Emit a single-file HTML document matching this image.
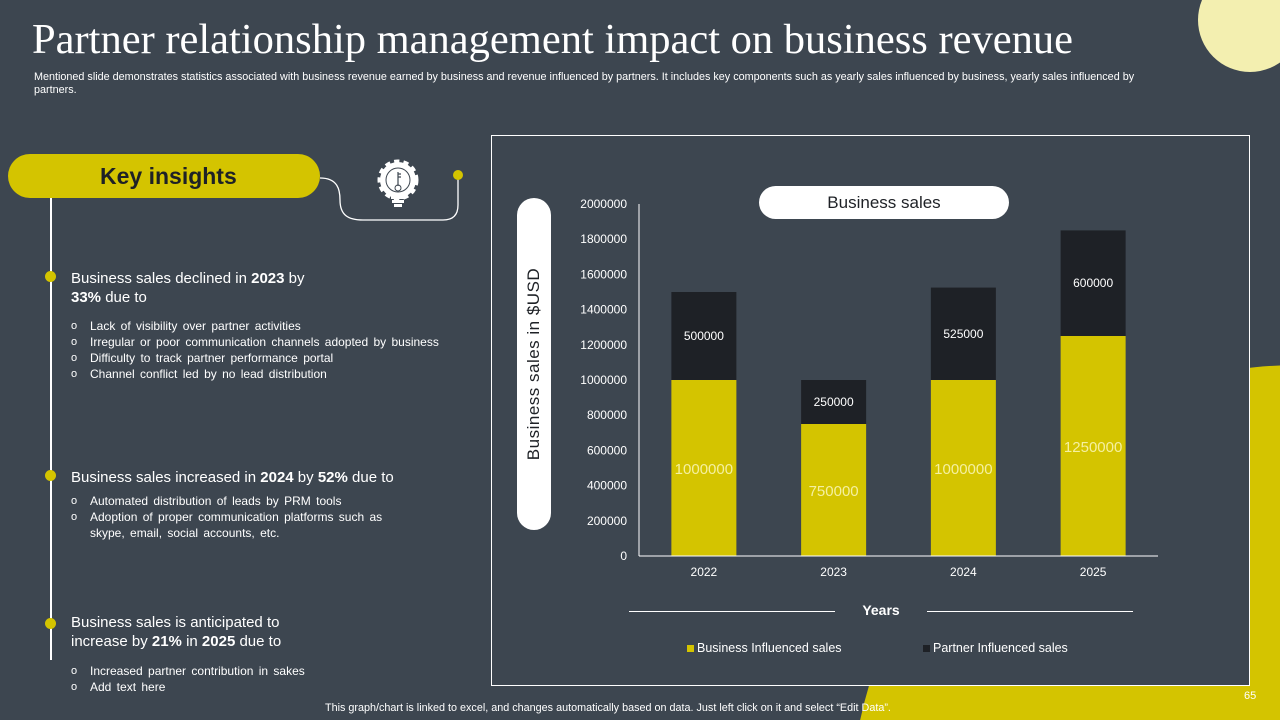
<!DOCTYPE html>
<html style="overflow:hidden;width:1280px;height:720px"><head><meta charset="utf-8"><style>
*{margin:0;padding:0;box-sizing:border-box}
body{width:1280px;height:720px;overflow:hidden;background:#3d4650;font-family:"Liberation Sans",sans-serif;color:#fff;position:relative}
#wrap{position:absolute;left:0;top:0;width:1280px;height:720px;overflow:hidden}
.a{position:absolute}
.h{font-size:15px;line-height:19px}
.b{font-size:12px;line-height:16px;word-spacing:2px}
.b div{position:relative;padding-left:19px}
.b div:before{content:"o";position:absolute;left:0;top:0;font-size:11px}
.dot{width:11px;height:11px;border-radius:50%;background:#d4c400;left:45px}
</style></head><body><div id="wrap">
<svg class="a" style="left:0;top:0" width="1280" height="720"><circle cx="1250" cy="20" r="52" fill="#f3efb0"/><circle cx="1300" cy="815" r="450" fill="#d4c400"/></svg>
<div class="a" style="left:32px;top:15px;font-family:'Liberation Serif',serif;font-size:42.5px;line-height:50px;white-space:nowrap">Partner relationship management impact on business revenue</div>
<div class="a" style="left:34px;top:71px;width:1130px;font-size:10.8px;line-height:13px">Mentioned slide demonstrates statistics associated with business revenue earned by business and revenue influenced by partners. It includes key components such as yearly sales influenced by business, yearly sales influenced by partners.</div>

<div class="a" style="left:50px;top:190px;width:2px;height:470px;background:#fff"></div>
<div class="a" style="left:8px;top:154px;width:312px;height:44px;border-radius:22px;background:#d4c400;color:#1e2126;font-weight:bold;font-size:23px;line-height:44px;padding-left:92px">Key insights</div>
<svg class="a" style="left:318px;top:160px" width="150" height="70"><path d="M2 18 C20 18,22 30,22 40 C22 55,30 60,45 60 L125 60 C135 60,140 55,140 45 L140 15" fill="none" stroke="#fff" stroke-width="1.3"/><circle cx="140" cy="15" r="5" fill="#d4c400"/></svg>
<svg class="a" style="left:376px;top:158px" width="44" height="52"><circle cx="22" cy="22" r="18" fill="#fff" stroke="#fff" stroke-width="5" stroke-dasharray="5 4"/><circle cx="22" cy="22" r="12" fill="none" stroke="#3d4650" stroke-width="1"/><path d="M22 14v14M22 16h3M22 19h3" stroke="#3d4650" stroke-width="1.2"/><circle cx="22" cy="30" r="3" fill="none" stroke="#3d4650"/><rect x="15" y="38" width="14" height="3" fill="#fff"/><rect x="16" y="42" width="12" height="3" fill="#fff"/><rect x="18" y="46" width="8" height="3" fill="#fff"/></svg>

<div class="a dot" style="top:271px"></div>
<div class="a h" style="left:71px;top:269px">Business sales declined in <b>2023</b> by<br><b>33%</b> due to</div>
<div class="a b" style="left:71px;top:318px">
<div>Lack of visibility over partner activities</div><div>Irregular or poor communication channels adopted by business</div><div>Difficulty to track partner performance portal</div><div>Channel conflict led by no lead distribution</div></div>

<div class="a dot" style="top:470px"></div>
<div class="a h" style="left:71px;top:468px">Business sales increased in <b>2024</b> by <b>52%</b> due to</div>
<div class="a b" style="left:71px;top:493px">
<div>Automated distribution of leads by PRM tools</div><div>Adoption of proper communication platforms such as<br>skype, email, social accounts, etc.</div></div>

<div class="a dot" style="top:618px"></div>
<div class="a h" style="left:71px;top:613px">Business sales is anticipated to<br>increase by <b>21%</b> in <b>2025</b> due to</div>
<div class="a b" style="left:71px;top:663px">
<div>Increased partner contribution in sakes</div><div>Add text here</div></div>

<div class="a" style="left:491px;top:135px;width:759px;height:551px;background:#3d4650;border:1px solid #fff"></div>
<div class="a" style="left:517px;top:198px;width:34px;height:332px;border-radius:17px;background:#fff"></div>
<div class="a" style="left:534px;top:364px;transform:translate(-50%,-50%) rotate(-90deg);white-space:nowrap;color:#1e2126;font-size:17px;letter-spacing:0.5px">Business sales in $USD</div>
<div class="a" style="left:759px;top:186px;width:250px;height:33px;border-radius:17px;background:#fff;color:#1e2126;font-size:17px;line-height:33px;text-align:center">Business sales</div>
<svg class="a" id="chart" style="left:0;top:0" width="1280" height="720"></svg>
<div class="a" style="left:629px;top:602px;width:504px;height:18px">
<div class="a" style="left:0;top:9px;width:206px;height:1px;background:#fff"></div>
<div class="a" style="left:0;width:504px;text-align:center;font-weight:bold;font-size:14px">Years</div>
<div class="a" style="left:298px;top:9px;width:206px;height:1px;background:#fff"></div></div>
<div class="a" style="left:687px;top:641px;font-size:12.5px"><span style="display:inline-block;width:7px;height:7px;background:#d4c400;margin-right:3px"></span>Business Influenced sales</div>
<div class="a" style="left:923px;top:641px;font-size:12.5px"><span style="display:inline-block;width:7px;height:7px;background:#1e2126;margin-right:3px"></span>Partner Influenced sales</div>
<div class="a" style="left:325px;top:702px;font-size:10.8px;line-height:13px;white-space:nowrap">This graph/chart is linked to excel, and changes automatically based on data. Just left click on it and select “Edit Data”.</div>
<div class="a" style="left:1244px;top:690px;font-size:11px;line-height:13px">65</div>
<script>
const categories=["2022","2023","2024","2025"];
const businessValues=[1000000,750000,1000000,1250000];
const partnerValues=[500000,250000,525000,600000];
const yTicks=[0,200000,400000,600000,800000,1000000,1200000,1400000,1600000,1800000,2000000];
const svg=document.getElementById('chart');const NS='http://www.w3.org/2000/svg';
const y0=556,y1=204,yMax=2000000,x0=639,x1=1158;
const y=v=>y0-(v/yMax)*(y0-y1);
const band=(x1-x0)/categories.length;const bw=65;
const xc=i=>x0+band*(i+0.5);
function mk(t,a){const e=document.createElementNS(NS,t);for(const k in a)e.setAttribute(k,a[k]);svg.appendChild(e);return e;}
function tx(s,a){const e=mk('text',Object.assign({'font-family':'Liberation Sans, sans-serif','text-anchor':'middle'},a));e.textContent=s;return e;}
yTicks.forEach(v=>{const t=tx(String(v),{x:627,y:y(v)+4,'font-size':12,fill:'#fff','text-anchor':'end'});

});
categories.forEach((c,i)=>{
const b=mk('rect',{x:xc(i)-bw/2,y:y(businessValues[i]),width:bw,height:y0-y(businessValues[i]),fill:'#d4c400'});


const top=businessValues[i]+partnerValues[i];
const p=mk('rect',{x:xc(i)-bw/2,y:y(top),width:bw,height:y(businessValues[i])-y(top),fill:'#1e2126'});


const l1=tx(String(businessValues[i]),{x:xc(i),y:y(businessValues[i]/2)+6,'font-size':15,fill:'#f5f0a0'});


const l2=tx(String(partnerValues[i]),{x:xc(i),y:y(businessValues[i]+partnerValues[i]/2)+4,'font-size':12,fill:'#fff'});


const xl=tx(c,{x:xc(i),y:576,'font-size':12,fill:'#fff'});

});
const ax=mk('line',{x1:x0,y1:y0,x2:x1,y2:y0,stroke:'#fff','stroke-width':1});


const ay=mk('line',{x1:x0,y1:y0,x2:x0,y2:y1,stroke:'#fff','stroke-width':1});


</script>
</div></body></html>
